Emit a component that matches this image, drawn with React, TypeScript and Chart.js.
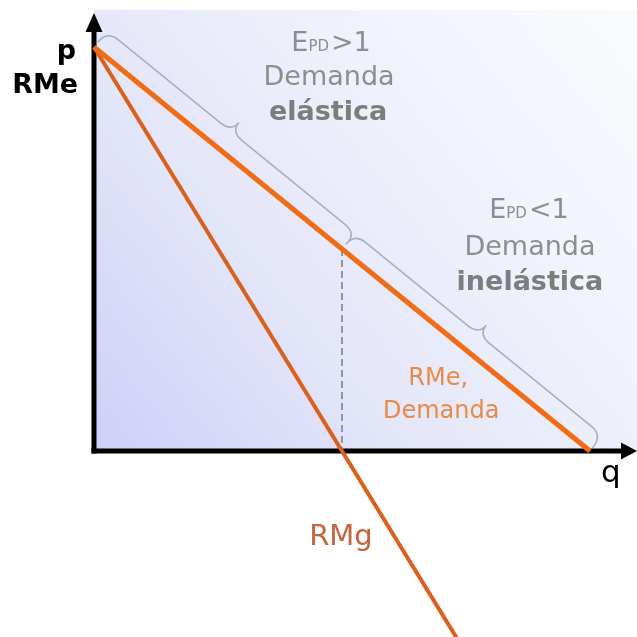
import React, { useEffect, useRef } from "react";
import { Chart, registerables } from "chart.js";

Chart.register(...registerables);

// ---- data (quantity q, price p) ----
const DEMAND_Q = [0, 10];
const DEMAND_P = [10, 0];
const RMG_Q = [0, 7.4];
const RMG_P = [10, -4.8];
const MID_Q = [5, 5];
const MID_P = [5, 0];

// axis ranges
const X_MIN = -1.895;
const X_MAX = 10.948;
const Y_MIN = -4.604;
const Y_MAX = 11.163;
const Y_AXIS_TOP = 10.84;
const BG_TOP = 10.92;

// braces: [q start, p start, q end, p end]
const BRACE_1 = [0, 10, 5, 5];
const BRACE_2 = [5, 5, 10, 0];

// text labels (positions in data units)
const ELASTIC_LINES = ["Demanda", "elástica"];
const INELASTIC_LINES = ["Demanda", "inelástica"];
const EPD_SYMBOL = ["E", "PD", ">1", "<1"];
const CURVE_LABELS = ["RMe,", "Demanda", "RMg"];
const AXIS_LABELS = ["p", "RMe", "q"];

const FONT = "'DejaVu Sans', Verdana, sans-serif";

function toPts(qs: number[], ps: number[]) {
  return qs.map((q, i) => ({ x: q, y: ps[i] }));
}

function drawBrace(
  ctx: CanvasRenderingContext2D,
  ax: number, ay: number, bx: number, by: number,
  d: number, h: number, r: number, s0: number, s1: number
) {
  const dx = bx - ax, dy = by - ay;
  const L = Math.hypot(dx, dy);
  const ux = dx / L, uy = dy / L;
  const nx = uy, ny = -ux;
  const P = (u: number, v: number): [number, number] => [ax + ux * u + nx * v, ay + uy * u + ny * v];
  ctx.beginPath();
  ctx.moveTo(...P(0, s0));
  ctx.quadraticCurveTo(...P(0, d), ...P(r, d));
  ctx.lineTo(...P(L / 2 - r, d));
  ctx.quadraticCurveTo(...P(L / 2, d), ...P(L / 2, d + h));
  ctx.quadraticCurveTo(...P(L / 2, d), ...P(L / 2 + r, d));
  ctx.lineTo(...P(L - r, d));
  ctx.quadraticCurveTo(...P(L, d), ...P(L, s1));
  ctx.stroke();
}

const overlay = {
  id: "overlay",
  beforeDatasetsDraw(chart: any) {
    const { ctx } = chart;
    const xs = chart.scales.x, ys = chart.scales.y;
    const x0 = xs.getPixelForValue(0);
    const y0 = ys.getPixelForValue(0);
    const xr = xs.getPixelForValue(X_MAX);
    const ytopBg = ys.getPixelForValue(BG_TOP);
    ctx.save();
    // background gradient
    const g = ctx.createLinearGradient(x0, y0, xr, ytopBg);
    g.addColorStop(0, "#cfcff8");
    g.addColorStop(0.35, "#e4e6f9");
    g.addColorStop(0.7, "#f1f4fb");
    g.addColorStop(1, "#fafbfe");
    ctx.fillStyle = g;
    ctx.fillRect(x0, ytopBg, xr - x0, y0 - ytopBg);

    // axes
    ctx.strokeStyle = "#000";
    ctx.fillStyle = "#000";
    ctx.lineWidth = 5;
    const ytip = ys.getPixelForValue(Y_AXIS_TOP);
    ctx.beginPath();
    ctx.moveTo(x0, y0 + 2.5);
    ctx.lineTo(x0, ytip + 14);
    ctx.stroke();
    ctx.beginPath();
    ctx.moveTo(x0, ytip);
    ctx.lineTo(x0 - 8.5, ytip + 19);
    ctx.lineTo(x0 + 8.5, ytip + 19);
    ctx.closePath();
    ctx.fill();

    ctx.beginPath();
    ctx.moveTo(x0 - 2.5, y0);
    ctx.lineTo(xr - 12, y0);
    ctx.stroke();
    ctx.beginPath();
    ctx.moveTo(xr, y0);
    ctx.lineTo(xr - 16, y0 - 8.5);
    ctx.lineTo(xr - 16, y0 + 8.5);
    ctx.closePath();
    ctx.fill();
    ctx.restore();
  },
  afterDatasetsDraw(chart: any) {
    const { ctx } = chart;
    const xs = chart.scales.x, ys = chart.scales.y;
    const px = (q: number) => xs.getPixelForValue(q);
    const py = (p: number) => ys.getPixelForValue(p);
    ctx.save();

    // braces
    ctx.strokeStyle = "#a9b0bd";
    ctx.lineWidth = 1.6;
    drawBrace(ctx, px(BRACE_1[0]), py(BRACE_1[1]), px(BRACE_1[2]), py(BRACE_1[3]), 21, 12, 14, 6, 11);
    drawBrace(ctx, px(BRACE_2[0]), py(BRACE_2[1]), px(BRACE_2[2]), py(BRACE_2[3]), 20, 12, 14, 6, 4);

    const text = (s: string, q: number, p: number, font: string, color: string, align: CanvasTextAlign) => {
      ctx.font = font;
      ctx.fillStyle = color;
      ctx.textAlign = align;
      ctx.textBaseline = "alphabetic";
      ctx.fillText(s, px(q), py(p));
    };

    const epd = (rest: string, q: number, p: number) => {
      const big = `27px ${FONT}`;
      const small = `15px ${FONT}`;
      ctx.font = big;
      const wE = ctx.measureText(EPD_SYMBOL[0]).width;
      const wR = ctx.measureText(rest).width;
      ctx.font = small;
      const wP = ctx.measureText(EPD_SYMBOL[1]).width;
      const total = wE + wP + wR + 2;
      let x = px(q) - total / 2;
      const y = py(p);
      ctx.fillStyle = "#8e8e8e";
      ctx.textAlign = "left";
      ctx.textBaseline = "alphabetic";
      ctx.font = big;
      ctx.fillText(EPD_SYMBOL[0], x, y);
      x += wE;
      ctx.font = small;
      ctx.fillText(EPD_SYMBOL[1], x, y);
      x += wP + 2;
      ctx.font = big;
      ctx.fillText(rest, x, y);
    };

    const gray = "#8e8e8e";
    const grayBold = "#7d7d7d";
    epd(EPD_SYMBOL[2], 4.78, 9.9);
    text(ELASTIC_LINES[0], 4.74, 9.06, `27px ${FONT}`, gray, "center");
    text(ELASTIC_LINES[1], 4.72, 8.19, `bold 27px ${FONT}`, grayBold, "center");

    epd(EPD_SYMBOL[3], 8.77, 5.77);
    text(INELASTIC_LINES[0], 8.79, 4.85, `27px ${FONT}`, gray, "center");
    text(INELASTIC_LINES[1], 8.79, 3.99, `bold 27px ${FONT}`, grayBold, "center");

    text(CURVE_LABELS[0], 6.94, 1.63, `24px ${FONT}`, "#e98a48", "center");
    text(CURVE_LABELS[1], 7.0, 0.82, `24px ${FONT}`, "#e98a48", "center");
    text(CURVE_LABELS[2], 4.98, -2.33, `29px ${FONT}`, "#c6643c", "center");

    text(AXIS_LABELS[0], -0.36, 9.7, `bold 27px ${FONT}`, "#000", "right");
    text(AXIS_LABELS[1], -0.32, 8.86, `bold 27px ${FONT}`, "#000", "right");
    text(AXIS_LABELS[2], 10.42, -0.77, `31px ${FONT}`, "#000", "center");

    ctx.restore();
  },
};

export default function App() {
  const ref = useRef<HTMLCanvasElement | null>(null);
  useEffect(() => {
    document.body.style.margin = "0";
    const canvas = ref.current!;
    const chart = new Chart(canvas, {
      type: "scatter",
      data: {
        datasets: [
          {
            data: toPts(DEMAND_Q, DEMAND_P),
            showLine: true,
            borderColor: "#f26c17",
            borderWidth: 5,
            pointRadius: 0,
            order: 1,
          },
          {
            data: toPts(RMG_Q, RMG_P),
            showLine: true,
            borderColor: "#dc5f1d",
            borderWidth: 4,
            pointRadius: 0,
            order: 2,
          },
          {
            data: toPts(MID_Q, MID_P),
            showLine: true,
            borderColor: "#8e96a8",
            borderWidth: 2,
            borderDash: [7, 4],
            pointRadius: 0,
            order: 3,
          },
        ],
      },
      options: {
        animation: false,
        responsive: false,
        devicePixelRatio: 1,
        layout: { padding: 0 },
        plugins: { legend: { display: false }, tooltip: { enabled: false }, title: { display: false } },
        scales: {
          x: { type: "linear", min: X_MIN, max: X_MAX, display: false },
          y: { type: "linear", min: Y_MIN, max: Y_MAX, display: false },
        },
        events: [],
      },
      plugins: [overlay],
    });
    return () => chart.destroy();
  }, []);
  return (
    <div style={{ position: "absolute", left: 0, top: 0, width: 637, height: 637, background: "#fff" }}>
      <canvas ref={ref} width={637} height={637} style={{ display: "block" }} />
    </div>
  );
}
